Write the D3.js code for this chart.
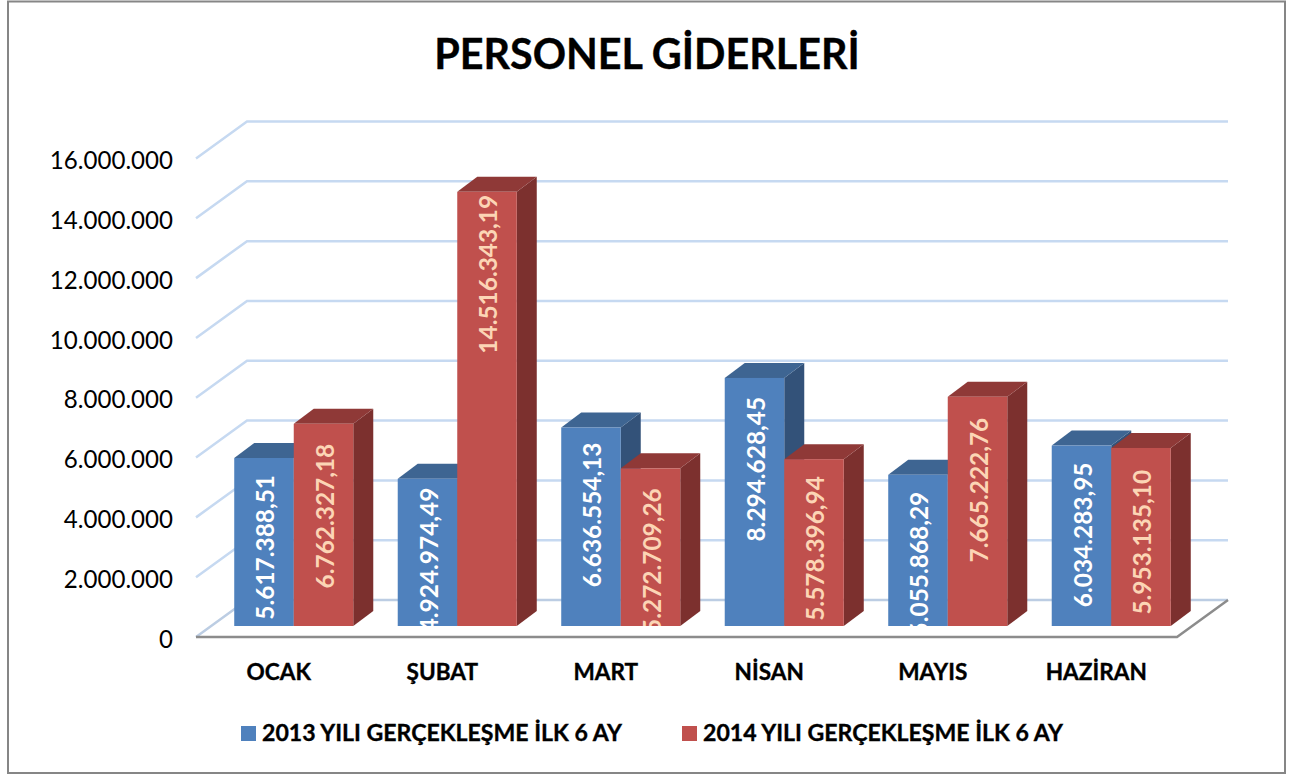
<!DOCTYPE html>
<meta charset="utf-8">
<script src="https://d3js.org/d3.v7.min.js"></script>
<style>
    html, body { margin: 0; background: #fff; }
    text { font-family: Lato, "Open Sans", sans-serif; fill: #000; }
    .heavy { stroke: #000; stroke-width: 0.35px; }
</style>
<div id="my_dataviz"></div>
<script>
    // data
    var months = ["OCAK", "ŞUBAT", "MART", "NİSAN", "MAYIS", "HAZİRAN"];
    var seriesNames = ["2013 YILI GERÇEKLEŞME İLK 6 AY", "2014 YILI GERÇEKLEŞME İLK 6 AY"];
    var values2013 = [5617388.51, 4924974.49, 6636554.13, 8294628.45, 5055868.29, 6034283.95];
    var values2014 = [6762327.18, 14516343.19, 5272709.26, 5578396.94, 7665222.76, 5953135.10];
    var yTicks = [0, 2000000, 4000000, 6000000, 8000000, 10000000, 12000000, 14000000, 16000000];

    var width = 1298, height = 775;
    // 3d look: back wall offset, bar offset from the front edge, bar depth
    var wall = {dx: 51, dy: -37}, barShift = {dx: 16, dy: -11}, depth = {dx: 20, dy: -15};

    // label positions are hand placed in the original, gap in px from bar top
    var labelGap2013 = [17, 9, 15, 19, 17, 17];
    var labelGap2014 = [20, 3, 20, 17, 21, 22];

    var colors = [
        {front: "#4f81bd", top: "#3e6592", side: "#335279", label: "#ffffff"},
        {front: "#c0504d", top: "#8f3937", side: "#7c302e", label: "#fcd5b5"}
    ];

    var locale = d3.formatLocale({decimal: ",", thousands: ".", grouping: [3], currency: ["", ""]});
    var fmtTick = locale.format(",.0f"), fmtValue = locale.format(",.2f");

    var svg = d3.select("#my_dataviz").append("svg")
        .attr("width", width).attr("height", height)
        .style("display", "block");

    // chart frame
    svg.append("rect").attr("x", 8).attr("y", 1.5).attr("width", 1277).attr("height", 771.5)
        .attr("fill", "#fff").attr("stroke", "#868686").attr("stroke-width", 2);

    var x = d3.scaleBand().domain(months).range([196, 1177]).paddingInner(0.272).paddingOuter(0.136);
    var xSeries = d3.scaleBand().domain([0, 1]).range([0, x.bandwidth()]);
    var y = d3.scaleLinear().domain([0, 16000000]).range([637, 158.5]);

    // gridlines, front-left diagonal then along the back wall
    svg.append("g").selectAll("path").data(yTicks.slice(1)).enter().append("path")
        .attr("d", function(d) {
            return "M196," + y(d) + "L" + (196 + wall.dx) + "," + (y(d) + wall.dy) + "H" + (1177 + wall.dx);
        })
        .attr("fill", "none").attr("stroke", "#c6d9f1").attr("stroke-width", 2.5);

    // floor
    var fy = y(0);
    svg.append("path")
        .attr("d", "M196," + fy + "L" + (196 + wall.dx) + "," + (fy + wall.dy) + "H" + (1177 + wall.dx))
        .attr("fill", "none").attr("stroke", "#bccde3").attr("stroke-width", 2.5);
    svg.append("path")
        .attr("d", "M196," + fy + "H1177L" + (1177 + wall.dx) + "," + (fy + wall.dy))
        .attr("fill", "none").attr("stroke", "#8c8c8c").attr("stroke-width", 2.5);

    // y axis
    var yAxis = svg.append("g").attr("transform", "translate(173,0)")
        .call(d3.axisLeft(y).tickValues(yTicks).tickFormat(fmtTick).tickSize(0));
    yAxis.select(".domain").remove();
    yAxis.selectAll("text").attr("x", 0).attr("dy", "0.42em")
        .style("font-size", "24.1px").style("font-family", "Lato");

    // x axis labels
    var xAxis = svg.append("g").attr("transform", "translate(1,654)")
        .call(d3.axisBottom(x).tickSize(0));
    xAxis.select(".domain").remove();
    xAxis.selectAll("text").attr("class", "heavy").attr("y", 10).attr("dy", "0.71em")
        .style("font-size", "22.6px").style("font-weight", 700).style("font-family", "Lato");

    // bars
    var defs = svg.append("defs");
    var base = y(0) + barShift.dy;
    function yBar(v) { return y(v) + barShift.dy; }

    months.forEach(function(m, i) {
        [values2013, values2014].forEach(function(vals, s) {
            var g = svg.append("g");
            var c = colors[s];
            var x0 = x(m) + barShift.dx + xSeries(s), x1 = x0 + xSeries.bandwidth();
            var top = yBar(vals[i]);
            // side face
            g.append("path")
                .attr("d", "M" + x1 + "," + base + "V" + top + "l" + depth.dx + "," + depth.dy +
                    "V" + (base + depth.dy) + "Z")
                .attr("fill", c.side);
            // top face
            g.append("path")
                .attr("d", "M" + x0 + "," + top + "H" + x1 + "l" + depth.dx + "," + depth.dy +
                    "H" + (x0 + depth.dx) + "Z")
                .attr("fill", c.top);
            g.append("rect")
                .attr("x", x0).attr("y", top).attr("width", x1 - x0).attr("height", base - top)
                .attr("fill", c.front);
            // value label, cut off at the foot of the bar
            var clipId = "clip-" + s + "-" + i;
            defs.append("clipPath").attr("id", clipId).append("rect")
                .attr("x", x0).attr("y", top).attr("width", x1 - x0).attr("height", base - top);
            var gap = (s === 0 ? labelGap2013 : labelGap2014)[i];
            g.append("g").attr("clip-path", "url(#" + clipId + ")")
                .append("text")
                .attr("transform", "translate(" + ((x0 + x1) / 2 + 1.5) + "," + (top + gap) + ") rotate(-90)")
                .attr("text-anchor", "end")
                .attr("dy", "0.35em")
                .style("font-size", "24.4px")
                .style("font-weight", 700)
                .style("fill", c.label)
                .text(fmtValue(vals[i]));
        });
    });

    // title
    svg.append("text").attr("class", "heavy").attr("x", 647).attr("y", 69).attr("text-anchor", "middle")
        .style("font-size", "41.3px").style("font-weight", 700)
        .text("PERSONEL GİDERLERİ");

    // legend
    var legend = svg.append("g").selectAll("g").data(seriesNames).enter().append("g")
        .attr("transform", function(d, i) { return "translate(" + (i === 0 ? 241 : 682) + ",726)"; });
    legend.append("rect").attr("width", 15).attr("height", 15)
        .attr("fill", function(d, i) { return colors[i].front; });
    legend.append("text").attr("class", "heavy").attr("x", 21).attr("y", 15)
        .style("font-size", "23.1px").style("font-weight", 700)
        .text(function(d) { return d; });
</script>
